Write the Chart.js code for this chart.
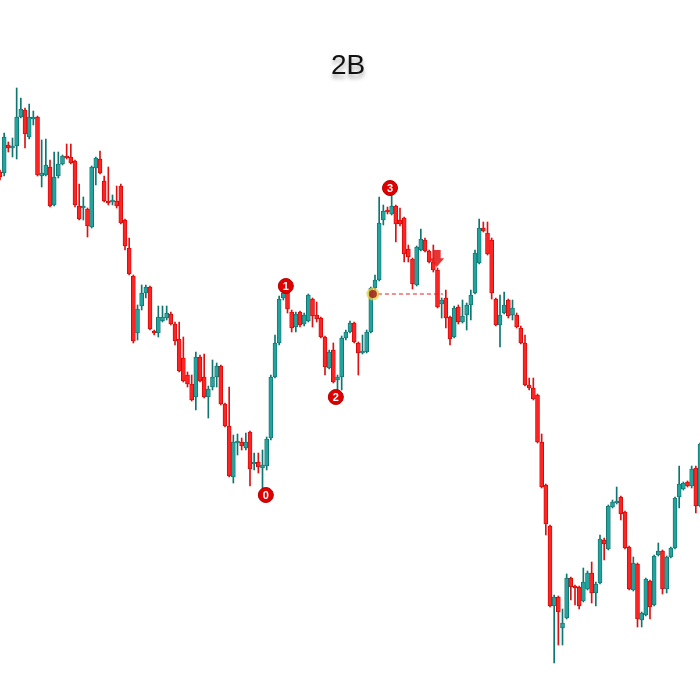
<!DOCTYPE html>
<html>
<head>
<meta charset="utf-8">
<script src="https://cdn.jsdelivr.net/npm/chart.js@4.4.1/dist/chart.umd.min.js"></script>
<style>
  html, body { margin: 0; padding: 0; background: #fff; }
  #wrap { position: relative; width: 700px; height: 700px; }
  #title {
    position: absolute; left: 0; top: 49px; width: 696px; text-align: center;
    font: 28px "Liberation Sans", Arial, sans-serif; color: #111;
    text-shadow: 0 4px 4px rgba(0,0,0,0.35); pointer-events: none;
  }
</style>
</head>
<body>
<div id="wrap">
  <canvas id="chart"></canvas>
  <div id="title">2B</div>
</div>
<script>
// ── DATA (price units) ───────────────────────────
const opens = [
  528,527,555,552,554,583,590,563,581,583,524,525,533,495,524,536,544,543,539,494,
  492,491,473,532,541,519,499,498,499,514,480,452,424,367,394,407,413,369,367,379,
  382,386,376,361,342,325,316,303,343,323,303,313,323,334,296,274,223,257,258,252,
  268,236,238,232,234,262,323,357,402,407,388,373,388,376,379,401,385,382,363,332,
  350,320,323,362,368,377,357,347,348,368,412,420,480,490,486,494,480,482,451,441,
  415,450,460,449,438,430,396,402,383,363,393,378,385,395,407,437,472,467,460,401,
  375,387,400,385,385,372,357,315,312,305,258,215,174,94,103,72,82,122,114,113,
  99,111,127,107,117,160,151,193,197,203,188,153,110,136,80,85,119,95,145,149,
  111,143,152,203,211,218,214,232,194
];
const highs = [
  530,567,558,562,612,602,592,596,589,584,560,561,540,548,548,545,556,556,540,516,
  503,492,534,543,549,524,533,505,514,516,481,462,425,395,415,415,414,370,394,394,
  394,388,378,378,363,328,325,348,345,346,314,340,337,335,297,313,265,266,262,267,
  269,247,247,250,263,325,365,404,410,408,390,388,389,387,406,402,398,383,364,350,
  357,325,364,370,379,378,358,365,370,413,425,503,495,493,505,495,492,483,455,442,
  454,471,462,450,455,432,402,410,384,394,395,400,397,410,450,481,478,478,462,402,
  405,408,401,400,387,374,365,322,322,306,266,216,175,105,104,91,126,123,115,114,
  132,129,138,118,165,162,195,200,213,204,189,154,143,137,88,122,120,145,157,150,
  144,153,203,234,218,219,234,234,257
];
const lows = [
  520,524,548,543,541,582,552,561,575,524,513,524,493,494,522,535,541,536,493,480,
  480,463,472,515,526,498,495,495,492,476,450,425,357,360,390,402,370,365,363,378,
  380,375,355,328,318,313,299,290,318,302,282,310,313,295,273,223,217,245,250,250,
  214,230,227,210,230,260,322,355,400,387,368,368,373,374,378,373,378,362,325,331,
  317,310,310,360,367,357,325,346,347,367,410,419,475,486,485,458,474,438,438,411,
  414,449,448,437,428,392,382,372,355,362,376,377,370,380,406,436,468,445,401,374,
  353,386,382,380,372,356,314,310,300,257,212,165,93,37,55,55,81,100,95,91,
  98,110,97,94,116,140,150,192,196,180,151,110,109,73,73,84,81,94,144,106,
  107,142,151,192,210,213,212,187,193
];
const closes = [
  523,563,552,554,583,591,566,583,583,525,527,535,494,523,536,544,542,537,495,481,
  494,474,533,542,527,499,497,499,494,477,454,426,359,391,407,413,371,367,383,383,
  387,376,359,329,319,316,300,343,319,303,311,323,334,296,274,224,258,258,254,258,
  231,237,233,235,261,323,357,401,407,391,372,386,375,385,405,384,381,363,333,348,
  318,323,362,368,377,358,347,349,368,412,420,477,489,488,494,476,476,446,443,416,
  453,461,449,438,430,393,400,382,361,392,378,384,395,405,447,472,469,446,407,375,
  385,395,384,392,373,357,315,312,301,258,213,176,94,103,88,77,122,113,112,94,
  118,127,107,116,161,156,194,198,199,186,152,111,137,81,87,121,93,144,149,111,
  143,152,202,216,217,214,231,194,256
];
const labels = opens.map((_, i) => i + 1);

// swing points 0-1-2-3, signal candle and down arrow
const swingNames  = ['0', '1', '2', '3'];
const swingIdx    = [63.8, 68.6, 80.6, 93.6];
const swingPrice  = [205, 414, 303, 512];
const signalIdx   = 89.5;
const signalPrice = 406;
const lineEndIdx  = 106.3;
const arrowIdx    = 104.8;
const arrowTop    = 450;
const arrowTip    = 433;

// ── COLOURS ──────────────────────────────────────
const UP_FILL = '#22a39d', UP_EDGE = '#0c6f6c', UP_WICK = '#0e7571';
const DN_FILL = '#ff2424', DN_EDGE = '#cc0000', DN_WICK = '#dd1111';
const isUp = closes.map((c, i) => c >= opens[i]);

// ── OVERLAY: swing labels, signal, arrow ─────────
const overlay = {
  id: 'overlay',
  afterDatasetsDraw(chart) {
    const { ctx, scales: { x, y } } = chart;
    const x0 = x.getPixelForValue(0);
    const step = x.getPixelForValue(1) - x0;
    const px = idx => x0 + idx * step;
    ctx.save();

    // dashed break line
    ctx.strokeStyle = '#e02020';
    ctx.lineWidth = 1;
    ctx.setLineDash([4, 3]);
    ctx.beginPath();
    ctx.moveTo(px(signalIdx) + 5, y.getPixelForValue(signalPrice));
    ctx.lineTo(px(lineEndIdx), y.getPixelForValue(signalPrice));
    ctx.stroke();
    ctx.setLineDash([]);

    // signal dot
    const sx = px(signalIdx), sy = y.getPixelForValue(signalPrice);
    ctx.fillStyle = 'rgba(230,205,60,0.75)';
    ctx.beginPath(); ctx.arc(sx, sy, 6.5, 0, Math.PI * 2); ctx.fill();
    ctx.fillStyle = 'rgba(160,30,30,0.85)';
    ctx.beginPath(); ctx.arc(sx, sy, 4, 0, Math.PI * 2); ctx.fill();

    // down arrow
    const ax = px(arrowIdx), aTop = y.getPixelForValue(arrowTop), aTip = y.getPixelForValue(arrowTip);
    const aMid = aTop + (aTip - aTop) * 0.48;
    ctx.fillStyle = 'rgba(228,30,30,0.9)';
    ctx.beginPath();
    ctx.moveTo(ax - 4, aTop); ctx.lineTo(ax + 4, aTop); ctx.lineTo(ax + 4, aMid);
    ctx.lineTo(ax + 7.5, aMid); ctx.lineTo(ax, aTip); ctx.lineTo(ax - 7.5, aMid);
    ctx.lineTo(ax - 4, aMid); ctx.closePath(); ctx.fill();

    // numbered swing circles
    ctx.font = 'bold 11px "Liberation Sans", Arial, sans-serif';
    ctx.textAlign = 'center';
    ctx.textBaseline = 'middle';
    swingNames.forEach((n, i) => {
      const cx = px(swingIdx[i]), cy = y.getPixelForValue(swingPrice[i]);
      ctx.fillStyle = '#e00000';
      ctx.strokeStyle = '#b00000';
      ctx.beginPath(); ctx.arc(cx, cy, 7.5, 0, Math.PI * 2); ctx.fill(); ctx.stroke();
      ctx.fillStyle = '#fff';
      ctx.fillText(n, cx, cy + 0.5);
    });
    ctx.restore();
  }
};

// ── CHART ────────────────────────────────────────
new Chart(document.getElementById('chart'), {
  type: 'bar',
  data: {
    labels,
    datasets: [
      {
        label: 'wick',
        data: lows.map((l, i) => [l, highs[i]]),
        backgroundColor: isUp.map(u => u ? UP_WICK : DN_WICK),
        barThickness: 1,
        grouped: false,
        order: 2
      },
      {
        label: 'body',
        data: opens.map((o, i) => [o, closes[i]]),
        backgroundColor: isUp.map(u => u ? UP_FILL : DN_FILL),
        borderColor: isUp.map(u => u ? UP_EDGE : DN_EDGE),
        borderWidth: 0.8,
        borderSkipped: false,
        barThickness: 4,
        minBarLength: 2,
        grouped: false,
        order: 1
      }
    ]
  },
  options: {
    responsive: true,
    maintainAspectRatio: false,
    animation: false,
    layout: { padding: 0 },
    scales: {
      x: { display: false, offset: false },
      y: { display: false, min: 0, max: 700 }
    },
    plugins: { legend: { display: false }, tooltip: { enabled: false } }
  },
  plugins: [overlay]
});
</script>
</body>
</html>
